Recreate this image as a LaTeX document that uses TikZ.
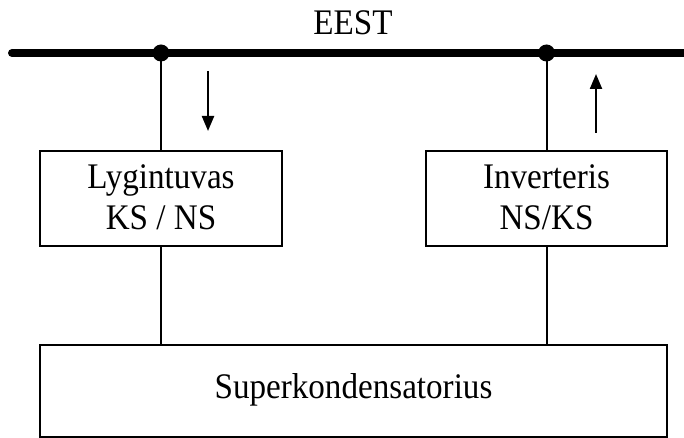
\documentclass[tikz,border=0pt]{standalone}
\usepackage{fontspec}
\setmainfont[FakeStretch=0.92]{Liberation Serif}
\usetikzlibrary{arrows.meta}
\begin{document}
\begin{tikzpicture}[x=1pt,y=-1pt,
  bus/.style={line width=8pt},
  wire/.style={line width=2pt},
  blockbox/.style={draw, line width=2.4pt, inner sep=0pt},
  lbl/.style={anchor=base, inner sep=0pt, font=\fontsize{36}{40}\selectfont},
  flow/.style={line width=2.2pt, -{Triangle[length=15pt,width=12pt]}}]
\useasboundingbox (0,0) rectangle (684,438);
% bus
\coordinate (busL) at (12,53);
\coordinate (busR) at (684,53);
\draw[bus] (busL) -- (busR);
\fill (busL) circle (4);
\node[lbl] (eest) at (353,35) {EEST};
% junctions
\coordinate (j1) at (161,53);
\coordinate (j2) at (546.5,53);
% boxes
\node[blockbox, minimum width=242pt, minimum height=95pt] (lyg) at (161,198.5) {};
\node[blockbox, minimum width=241pt, minimum height=95pt] (inv) at (546.5,198.5) {};
\node[blockbox, minimum width=627pt, minimum height=92pt] (sup) at (353.5,391) {};
% texts
\node[lbl] (lygA) at (161,189) {Lygintuvas};
\node[lbl] (lygB) at (161,229) {KS / NS};
\node[lbl] (invA) at (546.5,189) {Inverteris};
\node[lbl] (invB) at (546.5,229) {NS/KS};
\node[lbl] (supT) at (353.5,398) {Superkondensatorius};
% wires
\draw[wire] (j1) -- (lyg.north);
\draw[wire] (j2) -- (inv.north);
\draw[wire] (lyg.south) -- (lyg.south |- sup.north);
\draw[wire] (inv.south) -- (inv.south |- sup.north);
\fill (j1) circle (8.5);
\fill (j2) circle (8.5);
% arrows
\coordinate (a1s) at (208,71);
\coordinate (a1e) at (208,131);
\coordinate (a2s) at (596,133);
\coordinate (a2e) at (596,74);
\draw[flow] (a1s) -- (a1e);
\draw[flow] (a2s) -- (a2e);
\end{tikzpicture}
\end{document}
